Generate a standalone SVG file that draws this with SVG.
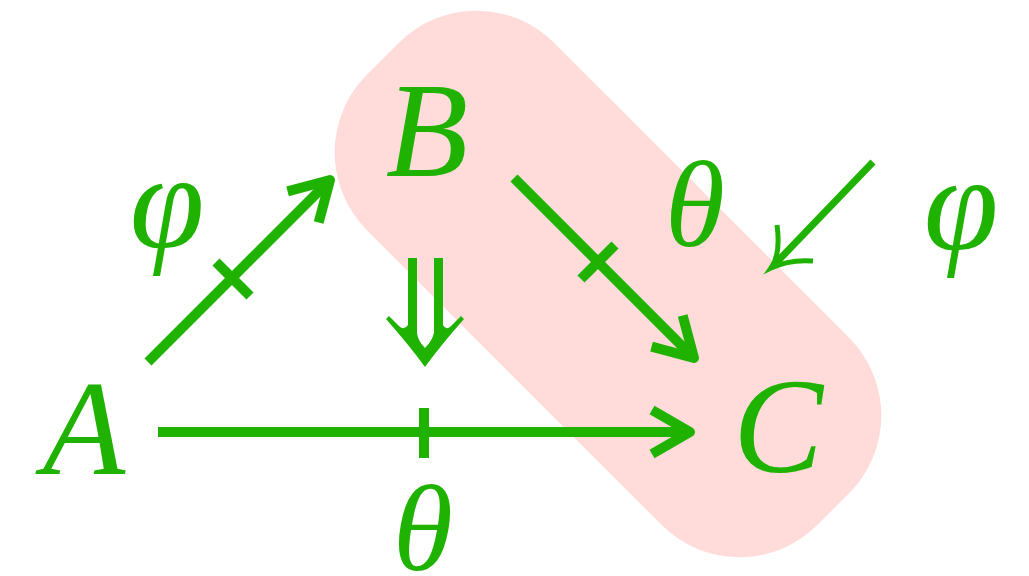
<svg xmlns="http://www.w3.org/2000/svg" width="1029" height="576" viewBox="0 0 1029 576">
<style>
.lbl{font-family:"Liberation Serif","Times New Roman",serif;font-style:italic;fill:#1fb200;text-anchor:middle}
.big{font-size:135px}
.th{font-size:122px}
.sh{fill:none;stroke:#1fb200;stroke-width:10;stroke-linecap:butt}
.tk{fill:none;stroke:#1fb200;stroke-width:10}
</style>
<defs>
<marker id="ah" markerUnits="userSpaceOnUse" orient="auto" refX="0" refY="0" markerWidth="60" markerHeight="60" viewBox="-50 -30 60 60" overflow="visible">
<path d="M-38,-22 L0,0 L-38,22" fill="none" stroke="#1fb200" stroke-width="10" stroke-linejoin="round"/>
</marker>
</defs>
<rect id="highlight" x="289.5" y="151.5" width="637" height="265" rx="110" fill="#ffdcda" transform="rotate(45 608 284)"/>
<g id="A"><text class="lbl big" x="84" y="474">A</text></g>
<g id="B"><text class="lbl big" x="427" y="176">B</text></g>
<g id="C"><text class="lbl big" x="778" y="472">C</text></g>
<g id="labels">
<text class="lbl big" x="167" y="247">φ</text>
<text class="lbl th" x="695" y="246">θ</text>
<text class="lbl big" x="961" y="249">φ</text>
<text class="lbl th" x="423" y="570">θ</text>
</g>
<g id="connectors">
<path class="sh" d="M148,362 L330,180" marker-end="url(#ah)"/>
<path class="tk" d="M216,262 L250,296"/>
<path class="sh" d="M514,178 L694,358" marker-end="url(#ah)"/>
<path class="tk" d="M581,279 L615,245"/>
<path class="sh" d="M158,432 L690,432" marker-end="url(#ah)"/>
<path class="tk" d="M424,408 L424,458"/>
<path d="M408,258 L417,258 L417,333 Q418,341 425,348 Q432,341 434,333 L434,258 L443,258 L443,325 Q446,331 451,326 L461,316 L464,319 Q441,345 425,367 Q409,345 386,319 L389,316 L399,326 Q404,331 408,325 Z" fill="#1fb200"/>
<path d="M873,162 L775,264" fill="none" stroke="#1fb200" stroke-width="7"/>
<path d="M777,225 Q781,254 771,268 Q790,259 813,261" fill="none" stroke="#1fb200" stroke-width="5"/>
</g>
</svg>
